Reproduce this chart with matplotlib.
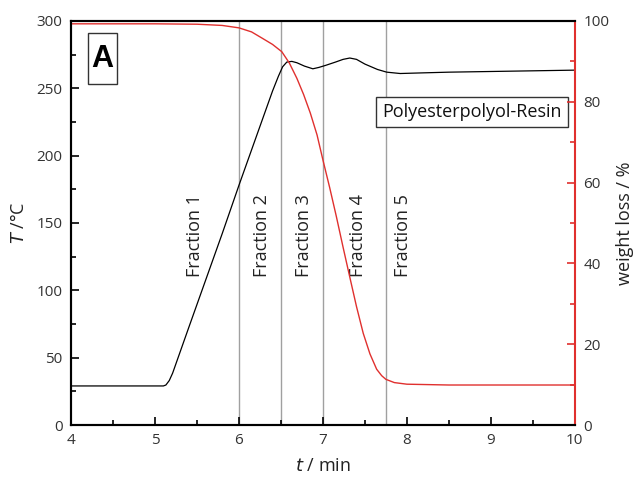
import matplotlib.pyplot as plt
from matplotlib.patches import Rectangle
from matplotlib.ticker import MultipleLocator

plt.rcParams['font.family'] = ['Open Sans', 'DejaVu Sans']

# temperature trace (black)
t_temp = [4.0, 5.0, 5.10, 5.13, 5.17, 5.21, 5.4, 5.6, 5.8, 6.0, 6.2, 6.4,
          6.47, 6.52, 6.57, 6.63, 6.69, 6.78, 6.88, 6.95, 7.03, 7.15, 7.24, 7.32,
          7.4, 7.5, 7.65, 7.76, 7.92, 8.2, 8.5, 9.0, 9.5, 10.0]
temp = [29, 29, 29, 29.7, 33, 38.5, 72, 107, 142, 178, 213, 248,
        259, 266, 269.5, 270, 269, 266.5, 264.5, 265.5, 267, 269.5, 271.5, 272.5,
        271.5, 268, 264, 262, 261, 261.5, 262, 262.5, 263, 263.5]

# weight loss trace (red), right axis
t_wl = [4.0, 5.0, 5.5, 5.8, 6.0, 6.15, 6.28, 6.4, 6.51, 6.6, 6.69, 6.77, 6.85,
        6.93, 7.0, 7.08, 7.16, 7.24, 7.32, 7.4, 7.48, 7.56, 7.64, 7.7, 7.75,
        7.85, 8.0, 8.5, 9.0, 10.0]
wl = [99.3, 99.3, 99.2, 98.9, 98.3, 97.3, 95.7, 94.2, 92.4, 89.6, 85.8, 81.8, 77.2,
      71.8, 65.6, 58.8, 51.6, 44, 36.6, 29.3, 22.7, 17.6, 13.8, 12.2, 11.3,
      10.5, 10.1, 9.9, 9.9, 9.9]

fraction_bounds = [6.0, 6.5, 7.0, 7.75]
fraction_labels = ['Fraction 1', 'Fraction 2', 'Fraction 3', 'Fraction 4', 'Fraction 5']
fraction_x = [5.48, 6.28, 6.77, 7.42, 7.95]

fig = plt.figure(figsize=(6.38, 4.87), dpi=100)
ax = fig.add_axes([0.1113, 0.1273, 0.7897, 0.8296])
ax2 = ax.twinx()

for b in fraction_bounds:
    ax.axvline(b, color='#a0a0a0', lw=1.0, zorder=1)

ax.plot(t_temp, temp, color='black', lw=0.9, zorder=3)
ax2.plot(t_wl, wl, color='#e0302e', lw=1.0)

for x, lab in zip(fraction_x, fraction_labels):
    ax.text(x, 110, lab, rotation=90, ha='center', va='bottom', fontsize=13, color='#222222')

ax.set_xlim(4, 10)
ax.set_ylim(0, 300)
ax2.set_ylim(0, 100)

ax.xaxis.set_major_locator(MultipleLocator(1))
ax.xaxis.set_minor_locator(MultipleLocator(0.5))
ax.yaxis.set_major_locator(MultipleLocator(50))
ax.yaxis.set_minor_locator(MultipleLocator(25))
ax2.yaxis.set_major_locator(MultipleLocator(20))
ax2.yaxis.set_minor_locator(MultipleLocator(10))

ax.tick_params(which='both', direction='in', labelsize=11, width=1.2, colors='black')
ax.tick_params(which='major', length=6)
ax.tick_params(which='minor', length=3.5)
ax.tick_params(axis='both', labelcolor='#333333', pad=6)
ax2.tick_params(which='both', direction='in', color='#e0302e', width=1.2, labelsize=11,
                labelcolor='#333333', pad=6)
ax2.tick_params(which='major', length=6)
ax2.tick_params(which='minor', length=3.5)

for s in ['left', 'bottom', 'top']:
    ax.spines[s].set_linewidth(1.5)
    ax2.spines[s].set_linewidth(1.5)
ax2.spines['right'].set_color('#e0302e')
ax2.spines['right'].set_linewidth(1.5)
ax.spines['right'].set_visible(False)

ax.set_xlabel('$t$ / min', fontsize=13, color='#222222', labelpad=6)
ax.set_ylabel('$T$ /°C', fontsize=13, color='#222222', labelpad=6)
ax2.set_ylabel('weight loss / %', fontsize=13, color='#222222', labelpad=5)

# "A" panel label box
ax.add_patch(Rectangle((0.0337, 0.844), 0.0575, 0.126, transform=ax.transAxes,
                       fc='white', ec='#333333', lw=1, zorder=4))
ax.text(0.0625, 0.907, 'A', transform=ax.transAxes, fontsize=22, fontweight='bold',
        family='Liberation Sans', va='center', ha='center', zorder=5)

# sample name box
ax.add_patch(Rectangle((0.605, 0.7376), 0.381, 0.0743, transform=ax.transAxes,
                       fc='white', ec='#333333', lw=1, zorder=4))
ax.text(0.7956, 0.7748, 'Polyesterpolyol-Resin', transform=ax.transAxes, fontsize=13,
        va='center', ha='center', color='#111111', zorder=5)

fig.savefig('out.png', dpi=100)
